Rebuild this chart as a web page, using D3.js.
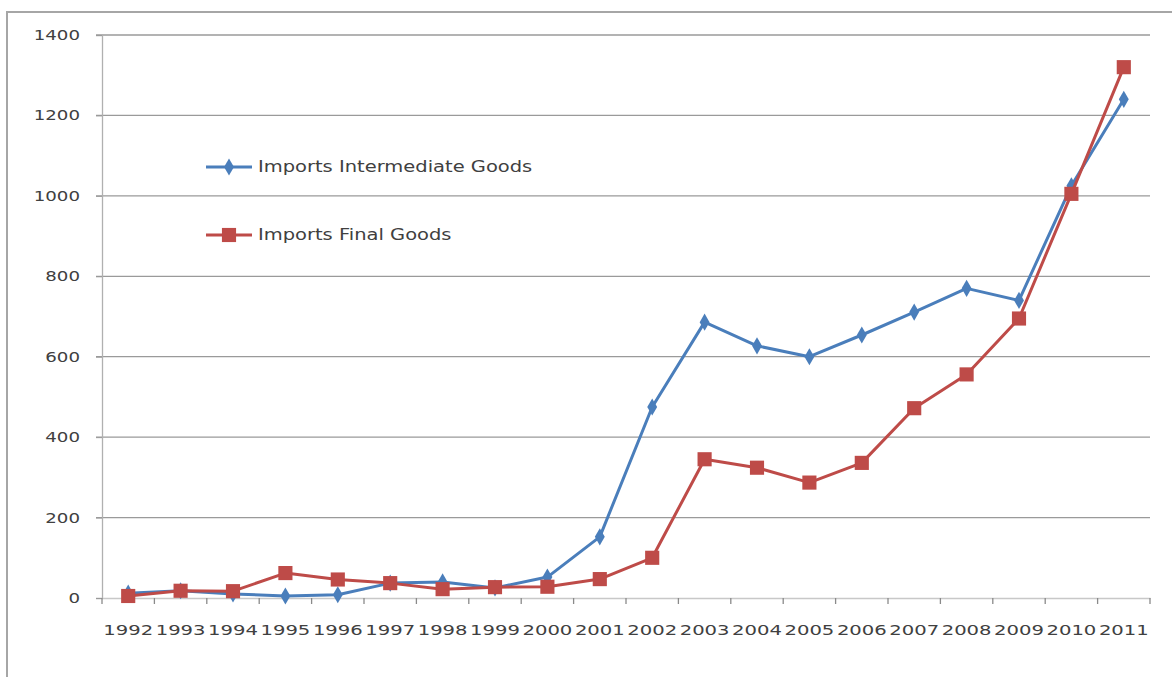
<!DOCTYPE html>
<html>
<head>
<meta charset="utf-8">
<script src="https://cdn.jsdelivr.net/npm/d3@7"></script>
<style>
  body { margin: 0; background: #fff; }
  text { font-family: "DejaVu Sans", sans-serif; fill: #404040; }
</style>
</head>
<body>
<div id="chart"></div>
<script>
// values
const years = ["1992","1993","1994","1995","1996","1997","1998","1999","2000","2001",
               "2002","2003","2004","2005","2006","2007","2008","2009","2010","2011"];
const intermediate = [12, 18, 10, 5, 8, 37, 40, 25, 52, 152, 475, 686, 627, 600, 654, 711, 770, 740, 1025, 1240];
const finalGoods = [5, 18, 17, 62, 46, 37, 22, 27, 28, 47, 100, 345, 324, 287, 336, 472, 556, 695, 1005, 1320];
const yTicks = [0, 200, 400, 600, 800, 1000, 1200, 1400];

const width = 1172, height = 677;
const stretch = 1.3; // the source picture is stretched sideways
const svg = d3.select("#chart").append("svg")
    .attr("width", width)
    .attr("height", height);

// outer chart frame
svg.append("rect")
    .attr("x", 7).attr("y", 12)
    .attr("width", 1180).attr("height", 700)
    .attr("fill", "none")
    .attr("stroke", "#a6a6a6")
    .attr("stroke-width", 2);

const plotLeft = 102, plotRight = 1150, plotTop = 35, plotBottom = 598;

const x = d3.scaleBand().domain(years).range([plotLeft, plotRight]);
const y = d3.scaleLinear().domain([0, 1400]).range([plotBottom, plotTop]);

// gridlines
svg.append("g")
    .selectAll("line")
    .data(yTicks.filter(d => d > 0))
    .enter().append("line")
    .attr("x1", plotLeft - 6).attr("x2", plotRight)
    .attr("y1", d => y(d)).attr("y2", d => y(d))
    .attr("stroke", "#9a9a9a")
    .attr("stroke-width", 1.3);

// y axis
const yAxis = svg.append("g")
    .attr("transform", `translate(${plotLeft},0)`)
    .call(d3.axisLeft(y).tickValues(yTicks).tickFormat(d3.format("d")).tickSize(6));
yAxis.select(".domain").attr("stroke", "#b0b0b0").attr("stroke-width", 1.3);
yAxis.selectAll(".tick line").attr("stroke", "#9a9a9a");
yAxis.selectAll("text")
    .attr("x", -22 / stretch)
    .attr("transform", `scale(${stretch},1)`)
    .style("font-size", "14px")
    .attr("fill", "#404040");

// x axis
const xAxis = svg.append("g")
    .attr("transform", `translate(0,${plotBottom})`)
    .call(d3.axisBottom(x).tickSize(0).tickPadding(27));
xAxis.select(".domain").attr("stroke", "#c8c8c8").attr("stroke-width", 1.3);
xAxis.selectAll("text")
    .attr("transform", "scale(1.4,1)")
    .style("font-size", "14px")
    .attr("fill", "#404040");

// category tick marks between bands
svg.append("g")
    .selectAll("line")
    .data(years.concat(["end"]))
    .enter().append("line")
    .attr("x1", (d, i) => plotLeft + i * x.step())
    .attr("x2", (d, i) => plotLeft + i * x.step())
    .attr("y1", plotBottom).attr("y2", plotBottom + 6)
    .attr("stroke", "#8a8a8a")
    .attr("stroke-width", 1.3);

const cx = d => x(d) + x.bandwidth() / 2;

const series = [
    { name: "Imports Intermediate Goods", values: intermediate, color: "#4a7ebb", marker: "diamond" },
    { name: "Imports Final Goods", values: finalGoods, color: "#be4b48", marker: "square" }
];

const line = d3.line()
    .x(d => cx(d.year))
    .y(d => y(d.value));

function markerOf(s) {
    return s.marker === "diamond"
        ? d3.symbol().type(d3.symbolDiamond).size(85)
        : d3.symbol().type(d3.symbolSquare).size(200);
}

series.forEach(s => {
    const pts = years.map((yr, i) => ({ year: yr, value: s.values[i] }));
    svg.append("path")
        .datum(pts)
        .attr("fill", "none")
        .attr("stroke", s.color)
        .attr("stroke-width", 3)
        .attr("stroke-linejoin", "round")
        .attr("d", line);

    svg.append("g")
        .selectAll("path")
        .data(pts)
        .enter().append("path")
        .attr("transform", d => `translate(${cx(d.year)},${y(d.value)})`)
        .attr("d", markerOf(s))
        .attr("fill", s.color);
});

// legend
const legendY = [167, 235];
series.forEach((s, i) => {
    const g = svg.append("g").attr("transform", `translate(206,${legendY[i]})`);
    g.append("line")
        .attr("x1", 0).attr("x2", 46)
        .attr("stroke", s.color).attr("stroke-width", 3);
    g.append("path")
        .attr("transform", "translate(23,0)")
        .attr("d", markerOf(s))
        .attr("fill", s.color);
    g.append("text")
        .attr("x", 52 / stretch).attr("dy", "0.35em")
        .attr("transform", `scale(${stretch},1)`)
        .style("font-size", "15px")
        .text(s.name);
});
</script>
</body>
</html>
